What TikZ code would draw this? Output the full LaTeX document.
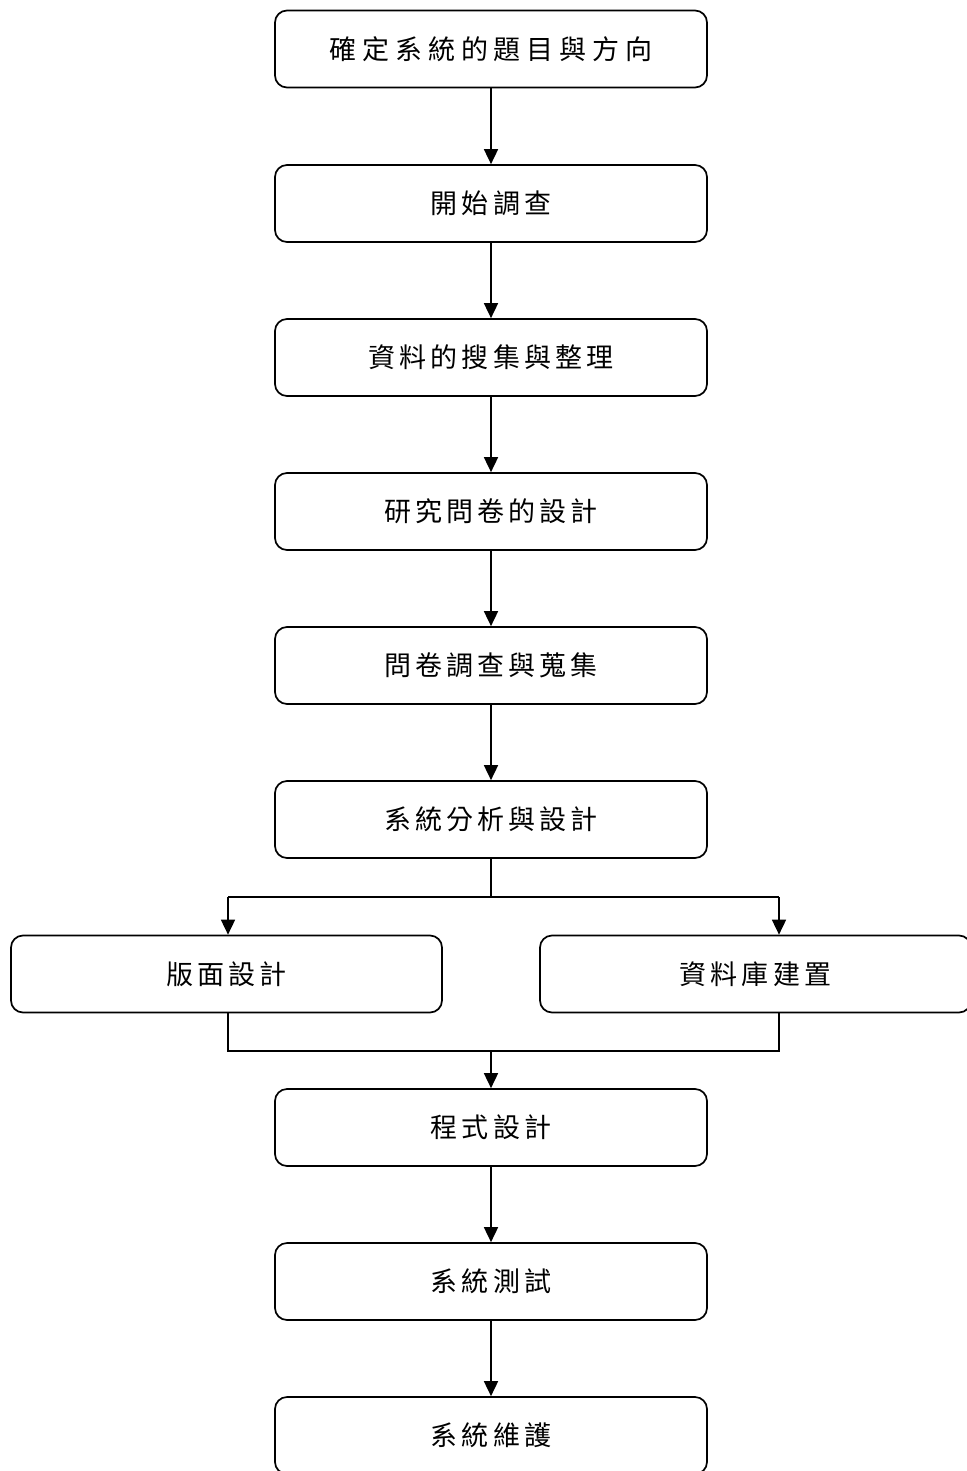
\documentclass[tikz,border=0pt]{standalone}
\usepackage{fontspec}
\newfontfamily\cjk[LetterSpace=15]{Noto Sans CJK TC}
\newfontfamily\cjkwide[LetterSpace=22]{Noto Sans CJK TC}
\usetikzlibrary{arrows.meta}
\begin{document}
\begin{tikzpicture}[x=1pt,y=-1pt,
  stepbox/.style={draw,line width=1.7pt,rounded corners=12pt,minimum width=432pt,minimum height=77pt,inner sep=0pt,font=\cjk\fontsize{27}{32}\selectfont},
  conn/.style={line width=1.7pt},
  arr/.style={line width=1.7pt,-{Triangle[length=15pt,width=14pt]}}]
\useasboundingbox (0,0) rectangle (966,1471);
\node[stepbox,font=\cjkwide\fontsize{27}{32}\selectfont] (b1) at (491,49) {確定系統的題目與方向};
\node[stepbox] (b2) at (491,203.5) {開始調查};
\node[stepbox] (b3) at (491,357.5) {資料的搜集與整理};
\node[stepbox] (b4) at (491,511.5) {研究問卷的設計};
\node[stepbox] (b5) at (491,665.5) {問卷調查與蒐集};
\node[stepbox] (b6) at (491,819.5) {系統分析與設計};
\node[stepbox,minimum width=431pt] (bl) at (226.5,974) {版面設計};
\node[stepbox,minimum width=431pt] (br) at (755.5,974) {資料庫建置};
\node[stepbox] (b7) at (491,1127.5) {程式設計};
\node[stepbox] (b8) at (491,1281.5) {系統測試};
\node[stepbox] (b9) at (491,1435.5) {系統維護};
\draw[arr] (b1) -- (b2);
\draw[arr] (b2) -- (b3);
\draw[arr] (b3) -- (b4);
\draw[arr] (b4) -- (b5);
\draw[arr] (b5) -- (b6);
\coordinate (split) at (491,897);
\coordinate (splitl) at (228,897);
\coordinate (splitr) at (779,897);
\coordinate (joinl) at (228,1051);
\coordinate (joinr) at (779,1051);
\coordinate (join) at (491,1051);
\draw[conn] (b6.south) -- (split);
\draw[conn] (splitl) -- (splitr);
\draw[arr] (splitl) -- (splitl |- bl.north);
\draw[arr] (splitr) -- (splitr |- br.north);
\draw[conn] (joinl |- bl.south) -- (joinl) -- (joinr) -- (joinr |- br.south);
\draw[arr] (join) -- (b7.north);
\draw[arr] (b7) -- (b8);
\draw[arr] (b8) -- (b9);
\end{tikzpicture}
\end{document}
